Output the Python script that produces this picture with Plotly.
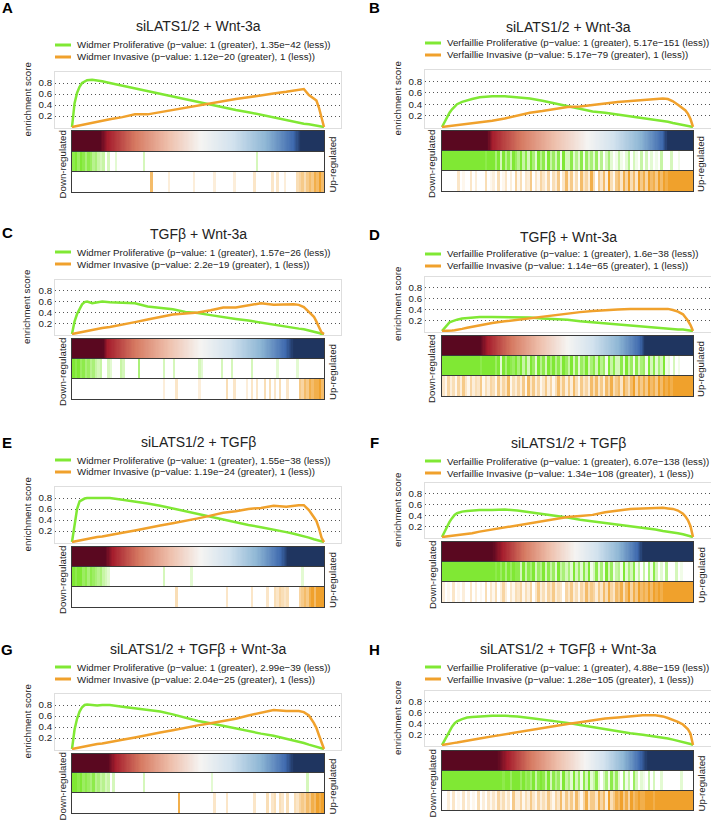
import plotly.graph_objects as go

W, H = 711, 822
FONT = "Liberation Sans, Arial, sans-serif"
TEXT = "#222222"
GREEN = "#80e834"
ORANGE = "#f0a12c"

# position in the ranked gene list (percent) at which each running score is read
RANK_GRID = [0, 1, 2, 3, 4, 5, 6, 8, 10, 12, 15, 20, 25, 30, 35, 40, 45, 50, 55,
             60, 65, 70, 75, 80, 85, 88, 90, 92, 94, 96, 97, 98, 99, 100]

PANEL_LETTERS = ["A", "B", "C", "D", "E", "F", "G", "H"]
PANEL_TITLES = ["siLATS1/2 + Wnt-3a", "siLATS1/2 + Wnt-3a",
                "TGFβ + Wnt-3a", "TGFβ + Wnt-3a",
                "siLATS1/2 + TGFβ", "siLATS1/2 + TGFβ",
                "siLATS1/2 + TGFβ + Wnt-3a", "siLATS1/2 + TGFβ + Wnt-3a"]
PROLIF_NAMES = [
    "Widmer Proliferative (p−value: 1 (greater), 1.35e−42 (less))",
    "Verfaillie Proliferative (p−value: 1 (greater), 5.17e−151 (less))",
    "Widmer Proliferative (p−value: 1 (greater), 1.57e−26 (less))",
    "Verfaillie Proliferative (p−value: 1 (greater), 1.6e−38 (less))",
    "Widmer Proliferative (p−value: 1 (greater), 1.55e−38 (less))",
    "Verfaillie Proliferative (p−value: 1 (greater), 6.07e−138 (less))",
    "Widmer Proliferative (p−value: 1 (greater), 2.99e−39 (less))",
    "Verfaillie Proliferative (p−value: 1 (greater), 4.88e−159 (less))",
]
INVAS_NAMES = [
    "Widmer Invasive (p−value: 1.12e−20 (greater), 1 (less))",
    "Verfaillie Invasive (p−value: 5.17e−79 (greater), 1 (less))",
    "Widmer Invasive (p−value: 2.2e−19 (greater), 1 (less))",
    "Verfaillie Invasive (p−value: 1.14e−65 (greater), 1 (less))",
    "Widmer Invasive (p−value: 1.19e−24 (greater), 1 (less))",
    "Verfaillie Invasive (p−value: 1.34e−108 (greater), 1 (less))",
    "Widmer Invasive (p−value: 2.04e−25 (greater), 1 (less))",
    "Verfaillie Invasive (p−value: 1.28e−105 (greater), 1 (less))",
]

# running enrichment scores on RANK_GRID
A_PROLIF_ES = [0, 0.43, 0.62, 0.73, 0.80, 0.83, 0.85, 0.86, 0.85, 0.83, 0.80, 0.75, 0.70, 0.65, 0.60, 0.55, 0.50,
               0.46, 0.41, 0.36, 0.31, 0.27, 0.22, 0.17, 0.13, 0.10, 0.08, 0.06, 0.05, 0.03, 0.02, 0.01, 0.0, 0]
A_INVAS_ES = [0, 0.01, 0.02, 0.03, 0.04, 0.045, 0.055, 0.07, 0.09, 0.11, 0.14, 0.18, 0.23, 0.23, 0.27, 0.31, 0.35,
              0.39, 0.44, 0.47, 0.51, 0.54, 0.58, 0.61, 0.64, 0.66, 0.67, 0.69, 0.58, 0.52, 0.48, 0.35, 0.18, 0]
B_PROLIF_ES = [0, 0.09, 0.17, 0.25, 0.31, 0.36, 0.40, 0.44, 0.47, 0.49, 0.52, 0.54, 0.54, 0.52, 0.50, 0.46, 0.41,
               0.37, 0.31, 0.27, 0.25, 0.22, 0.19, 0.16, 0.12, 0.10, 0.09, 0.07, 0.05, 0.04, 0.03, 0.02, 0.01, 0]
B_INVAS_ES = [0, 0.005, 0.01, 0.015, 0.02, 0.025, 0.03, 0.04, 0.05, 0.06, 0.08, 0.11, 0.15, 0.20, 0.25, 0.28, 0.31,
              0.35, 0.36, 0.38, 0.41, 0.44, 0.46, 0.47, 0.49, 0.50, 0.49, 0.45, 0.39, 0.33, 0.29, 0.23, 0.14, 0]
C_PROLIF_ES = [0, 0.23, 0.37, 0.47, 0.55, 0.59, 0.60, 0.57, 0.59, 0.60, 0.59, 0.58, 0.57, 0.51, 0.49, 0.46, 0.41,
               0.39, 0.35, 0.31, 0.28, 0.25, 0.21, 0.18, 0.14, 0.12, 0.10, 0.09, 0.07, 0.04, 0.03, 0.02, 0.0, 0]
C_INVAS_ES = [0, 0.01, 0.02, 0.03, 0.035, 0.045, 0.05, 0.07, 0.09, 0.11, 0.13, 0.17, 0.22, 0.27, 0.32, 0.36, 0.38,
              0.40, 0.44, 0.49, 0.49, 0.53, 0.57, 0.54, 0.55, 0.55, 0.54, 0.50, 0.41, 0.32, 0.23, 0.12, 0.03, 0]
D_PROLIF_ES = [0, 0.06, 0.12, 0.16, 0.18, 0.20, 0.21, 0.23, 0.24, 0.25, 0.26, 0.26, 0.26, 0.25, 0.25, 0.23, 0.22,
               0.21, 0.18, 0.16, 0.14, 0.12, 0.11, 0.09, 0.06, 0.05, 0.05, 0.04, 0.03, 0.03, 0.02, 0.02, 0.01, 0]
D_INVAS_ES = [0, 0, 0, 0.005, 0.01, 0.015, 0.02, 0.04, 0.06, 0.08, 0.11, 0.15, 0.18, 0.21, 0.23, 0.26, 0.29,
              0.32, 0.35, 0.37, 0.39, 0.40, 0.41, 0.41, 0.42, 0.42, 0.41, 0.39, 0.36, 0.31, 0.26, 0.19, 0.11, 0]
E_PROLIF_ES = [0, 0.35, 0.60, 0.74, 0.77, 0.79, 0.80, 0.80, 0.80, 0.80, 0.80, 0.77, 0.74, 0.70, 0.66, 0.61, 0.56,
               0.50, 0.45, 0.40, 0.36, 0.31, 0.27, 0.23, 0.18, 0.15, 0.13, 0.11, 0.08, 0.05, 0.04, 0.02, 0.01, 0]
E_INVAS_ES = [0, 0.01, 0.02, 0.03, 0.035, 0.04, 0.05, 0.07, 0.09, 0.10, 0.13, 0.17, 0.21, 0.26, 0.30, 0.34, 0.38,
              0.43, 0.48, 0.53, 0.56, 0.60, 0.62, 0.66, 0.64, 0.66, 0.67, 0.67, 0.58, 0.45, 0.38, 0.25, 0.08, 0]
F_PROLIF_ES = [0, 0.10, 0.20, 0.28, 0.35, 0.41, 0.44, 0.47, 0.48, 0.49, 0.50, 0.50, 0.51, 0.49, 0.46, 0.43, 0.39,
               0.36, 0.32, 0.29, 0.26, 0.23, 0.20, 0.18, 0.14, 0.11, 0.10, 0.08, 0.07, 0.05, 0.04, 0.03, 0.01, 0]
F_INVAS_ES = [0, 0.005, 0.01, 0.015, 0.02, 0.025, 0.03, 0.045, 0.06, 0.07, 0.10, 0.14, 0.18, 0.22, 0.26, 0.29, 0.33,
              0.37, 0.39, 0.41, 0.46, 0.49, 0.52, 0.53, 0.54, 0.54, 0.53, 0.52, 0.49, 0.43, 0.38, 0.31, 0.20, 0]
G_PROLIF_ES = [0, 0.35, 0.55, 0.68, 0.76, 0.80, 0.81, 0.80, 0.79, 0.80, 0.80, 0.77, 0.74, 0.71, 0.68, 0.63, 0.57,
               0.51, 0.47, 0.42, 0.37, 0.33, 0.28, 0.24, 0.19, 0.16, 0.14, 0.11, 0.08, 0.05, 0.04, 0.02, 0.01, 0]
G_INVAS_ES = [0, 0.01, 0.02, 0.03, 0.035, 0.04, 0.05, 0.07, 0.09, 0.10, 0.13, 0.17, 0.21, 0.26, 0.30, 0.34, 0.39,
              0.43, 0.47, 0.51, 0.55, 0.61, 0.66, 0.71, 0.69, 0.69, 0.69, 0.67, 0.61, 0.47, 0.38, 0.25, 0.12, 0]
H_PROLIF_ES = [0, 0.09, 0.19, 0.28, 0.34, 0.40, 0.44, 0.48, 0.51, 0.52, 0.53, 0.54, 0.54, 0.53, 0.50, 0.47, 0.45,
               0.41, 0.37, 0.33, 0.29, 0.26, 0.22, 0.19, 0.16, 0.13, 0.12, 0.10, 0.08, 0.06, 0.05, 0.04, 0.02, 0]
H_INVAS_ES = [0, 0.01, 0.015, 0.02, 0.03, 0.04, 0.045, 0.06, 0.07, 0.09, 0.12, 0.16, 0.20, 0.24, 0.27, 0.31, 0.35,
              0.39, 0.42, 0.46, 0.49, 0.51, 0.53, 0.55, 0.55, 0.53, 0.50, 0.47, 0.43, 0.38, 0.34, 0.29, 0.21, 0]

# gene-set hits along the ranked list: one digit (0-9 density) per percent bin
A_PROLIF_HITS = "8979868756 4340300200 0000000030 0000000000 0000000000 0000000000 0000000000 0003000000 0000000000 0000000000"
A_INVAS_HITS = "0000000000 0000000000 0000000000 0700000020 0000000020 0000002000 0000200000 0030000003 0300200004 5646768797"
B_PROLIF_HITS = "9999999999 9999999899 9693958497 5948396295 8294738193 3825281736 2715036201 4102503104 0302010400 0300100000"
B_INVAS_HITS = "0000003010 0302000401 2040130205 1403260315 3150426037 2614073528 4063729416 7385947396 8597869798 9999999999"
C_PROLIF_HITS = "9897867564 3400320004 3000006000 0000003000 3000000000 3200000003 0003000000 0300000000 0200000002 0000000000"
C_INVAS_HITS = "0000000000 0000000000 0000000000 0000002000 0300000000 2000000000 0400300002 0303004040 3040030000 6576878897"
D_PROLIF_HITS = "9999999999 9999989999 9792969879 6948397295 8396958497 4938275936 8395719483 3829471836 7193826391 2030100000"
D_INVAS_HITS = "3152415263 1524361425 4162537142 5261736251 3625147362 6274163527 4736275846 7386479586 8697869798 9899999999"
E_PROLIF_HITS = "9899786876 5643200000 0000000000 0000003000 0000000200 0000000000 0000000000 0000000000 0000000000 0200000000"
E_INVAS_HITS = "0000000000 0000000000 0000000000 0000000000 0400000000 0000000000 0300000000 0300000300 4354340000 5676897999"
F_PROLIF_HITS = "9999999999 9999999999 9897969798 8394869375 9384729463 6293728391 3826193714 5192638140 4061830205 0003010000"
F_INVAS_HITS = "2010301020 0302010403 1402520314 3514250362 4153624305 3624153746 5263748537 6847958697 8797989899 9999999999"
G_PROLIF_HITS = "9989787685 6453403000 0000000030 0000000000 0000000000 0000020000 0000000000 0000000000 0000000000 0003000000"
G_INVAS_HITS = "0000000000 0000000000 0000000000 0000000000 0080000000 0000003000 0300000000 0030000403 4043040043 5657687989"
H_PROLIF_HITS = "9999999999 9999999999 9999899799 9797869489 8493857294 6293718392 4820361837 2061407302 1040300200 0000020000"
H_INVAS_HITS = "0020301030 2010402031 3152413062 2514263152 4263153726 3627415836 6385729468 7968597898 8999899999 9999999999"

# ranked-list colour bar: end of dark red, red, white, blue, start of navy (fraction of list)
A_RANK_STOPS = [0.11, 0.14, 0.51, 0.88, 0.91]
B_RANK_STOPS = [0.18, 0.20, 0.58, 0.88, 0.90]
C_RANK_STOPS = [0.12, 0.14, 0.51, 0.85, 0.88]
D_RANK_STOPS = [0.15, 0.18, 0.50, 0.79, 0.81]
E_RANK_STOPS = [0.13, 0.16, 0.51, 0.83, 0.86]
F_RANK_STOPS = [0.20, 0.24, 0.53, 0.78, 0.80]
G_RANK_STOPS = [0.14, 0.17, 0.51, 0.85, 0.88]
H_RANK_STOPS = [0.22, 0.26, 0.57, 0.79, 0.82]

PROLIF_ES = [A_PROLIF_ES, B_PROLIF_ES, C_PROLIF_ES, D_PROLIF_ES, E_PROLIF_ES, F_PROLIF_ES, G_PROLIF_ES, H_PROLIF_ES]
INVAS_ES = [A_INVAS_ES, B_INVAS_ES, C_INVAS_ES, D_INVAS_ES, E_INVAS_ES, F_INVAS_ES, G_INVAS_ES, H_INVAS_ES]
PROLIF_HITS = [A_PROLIF_HITS, B_PROLIF_HITS, C_PROLIF_HITS, D_PROLIF_HITS,
               E_PROLIF_HITS, F_PROLIF_HITS, G_PROLIF_HITS, H_PROLIF_HITS]
INVAS_HITS = [A_INVAS_HITS, B_INVAS_HITS, C_INVAS_HITS, D_INVAS_HITS,
              E_INVAS_HITS, F_INVAS_HITS, G_INVAS_HITS, H_INVAS_HITS]
RANK_STOPS = [A_RANK_STOPS, B_RANK_STOPS, C_RANK_STOPS, D_RANK_STOPS,
              E_RANK_STOPS, F_RANK_STOPS, G_RANK_STOPS, H_RANK_STOPS]

# ---- layout in pixels ----
# frame left, curve start, curve end, frame right
COLS = {"L": (55, 72, 324, 341), "R": (425, 442, 693, 711)}
LETTER_X = {"L": 7, "R": 374}
# col, letter y, title y, legend y, es top, es zero, bar top, bar bottom, hits1 bottom, hits2 bottom
GEOM = [
    ("L", 8, 26, 45, 72, 127, 131, 152, 172, 192),
    ("R", 8, 27, 43, 70, 127, 131, 151, 171, 191),
    ("L", 233, 234, 252, 280, 334, 339, 359, 379, 399),
    ("R", 234, 237, 254, 277, 331, 336, 356, 376, 396),
    ("L", 442, 442, 460, 487, 542, 547, 567, 587, 607),
    ("R", 442, 443, 461, 483, 537, 542, 562, 582, 602),
    ("L", 649, 649, 667, 694, 749, 754, 773, 793, 813),
    ("R", 649, 649, 667, 691, 745, 751, 771, 791, 810),
]


def xf(px):
    return px / W


def yf(py):
    return 1 - py / H


def rank_scale(stops):
    d, r, w, b, n = stops
    return [[0, "#5a0820"], [d, "#5a0820"], [r, "#a51d2d"],
            [r + 0.3 * (w - r), "#d67a62"], [r + 0.65 * (w - r), "#eebfab"],
            [w, "#f5f4f2"], [w + 0.35 * (b - w), "#d2e2ee"], [w + 0.7 * (b - w), "#8fb7d5"],
            [b, "#3e69ae"], [n, "#1f3560"], [1, "#1f3560"]]


def names(k):
    s = "" if k == 1 else str(k)
    return "x" + s, "y" + s, "xaxis" + s, "yaxis" + s


def note(x, y, text, size=9.7, color=TEXT, xanchor="center", yanchor="middle", **kw):
    return dict(x=xf(x), y=yf(y), xref="paper", yref="paper", text=text, showarrow=False,
                xanchor=xanchor, yanchor=yanchor,
                font=dict(family=FONT, size=size, color=color), **kw)


fig = go.Figure()
layout = {}
annotations = []
shapes = []

for i, letter in enumerate(PANEL_LETTERS):
    col, ly, ty, gy, es_top, es_zero, h0, h1, h2, h3 = GEOM[i]
    f0, c0, c1, f1 = COLS[col]

    # running enrichment score
    xr, yr, xa, ya = names(4 * i + 1)
    for ys, color in ((PROLIF_ES[i], GREEN), (INVAS_ES[i], ORANGE)):
        fig.add_trace(go.Scatter(x=RANK_GRID, y=ys, mode="lines", xaxis=xr, yaxis=yr,
                                 line=dict(color=color, width=2.5), hoverinfo="skip",
                                 showlegend=False, cliponaxis=False))
    layout[xa] = dict(domain=[xf(f0), xf(f1)], anchor=yr,
                      range=[(f0 - c0) / (c1 - c0) * 100, (f1 - c0) / (c1 - c0) * 100],
                      showgrid=False, zeroline=False, showticklabels=False, ticks="",
                      showline=True, mirror=True, linecolor="#dedede", linewidth=1)
    layout[ya] = dict(domain=[yf(es_zero + 1), yf(es_top)], anchor=xr, range=[-0.018, 1.0],
                      tickvals=[0.2, 0.4, 0.6, 0.8], ticktext=["0.2", "0.4", "0.6", "0.8"],
                      tickfont=dict(family=FONT, size=9.7, color=TEXT), ticks="",
                      showgrid=True, gridcolor="#555555", griddash="1px,3px", gridwidth=1,
                      zeroline=False, showline=True, mirror=True, linecolor="#dedede", linewidth=1)

    # colour bar of the ranked list + hit strips
    strips = [
        (h0, h1, [list(range(200))], 0.25, 0.5, 199, rank_scale(RANK_STOPS[i])),
        (h1, h2, [[int(c) for c in PROLIF_HITS[i] if c.isdigit()]], 0.5, 1, 9,
         [[0, "#ffffff"], [1, GREEN]]),
        (h2, h3, [[int(c) for c in INVAS_HITS[i] if c.isdigit()]], 0.5, 1, 9,
         [[0, "#ffffff"], [0.6, "#f7d29c"], [1, ORANGE]]),
    ]
    for j, (top, bot, z, x0, dx, zmax, scale) in enumerate(strips):
        xr, yr, xa, ya = names(4 * i + 2 + j)
        fig.add_trace(go.Heatmap(z=z, x0=x0, dx=dx, y0=0, dy=1, zmin=0, zmax=zmax,
                                 colorscale=scale, showscale=False, hoverinfo="skip",
                                 xaxis=xr, yaxis=yr))
        layout[xa] = dict(domain=[xf(c0), xf(c1)], anchor=yr, range=[0, 100],
                          showgrid=False, zeroline=False, showticklabels=False, ticks="",
                          showline=True, mirror=True, linecolor="#3a3a3a", linewidth=1)
        layout[ya] = dict(domain=[yf(bot), yf(top)], anchor=xr, range=[-0.5, 0.5],
                          showgrid=False, zeroline=False, showticklabels=False, ticks="",
                          showline=True, mirror=True, linecolor="#3a3a3a", linewidth=1)

    # texts
    annotations.append(note(LETTER_X[col], ly, "<b>%s</b>" % letter, size=15, color="#000000"))
    annotations.append(note((f0 + f1) / 2, ty, PANEL_TITLES[i], size=14))
    for k, (label, color) in enumerate(((PROLIF_NAMES[i], GREEN), (INVAS_NAMES[i], ORANGE))):
        yy = gy + 12 * k
        shapes.append(dict(type="line", xref="paper", yref="paper", x0=xf(f0), x1=xf(f0 + 16),
                           y0=yf(yy), y1=yf(yy), line=dict(color=color, width=3)))
        annotations.append(note(f0 + 20, yy, label, xanchor="left"))
    annotations.append(note(f0 - 28, (es_top + es_zero) / 2, "enrichment score", textangle=-90))
    mid = (h0 + h3) / 2 + 3
    annotations.append(note(c0 - 10, mid, "Down-regulated", textangle=-90))
    annotations.append(note(c1 + 8, mid, "Up-regulated", textangle=-90))

fig.update_layout(
    width=W, height=H,
    margin=dict(l=0, r=0, t=0, b=0),
    paper_bgcolor="white", plot_bgcolor="white",
    showlegend=False,
    annotations=annotations,
    shapes=shapes,
    **layout
)

# the page body keeps the browser's default margin otherwise
fig.write_html("out.html", config={"displayModeBar": False},
               post_script="document.body.style.margin = '0';")
